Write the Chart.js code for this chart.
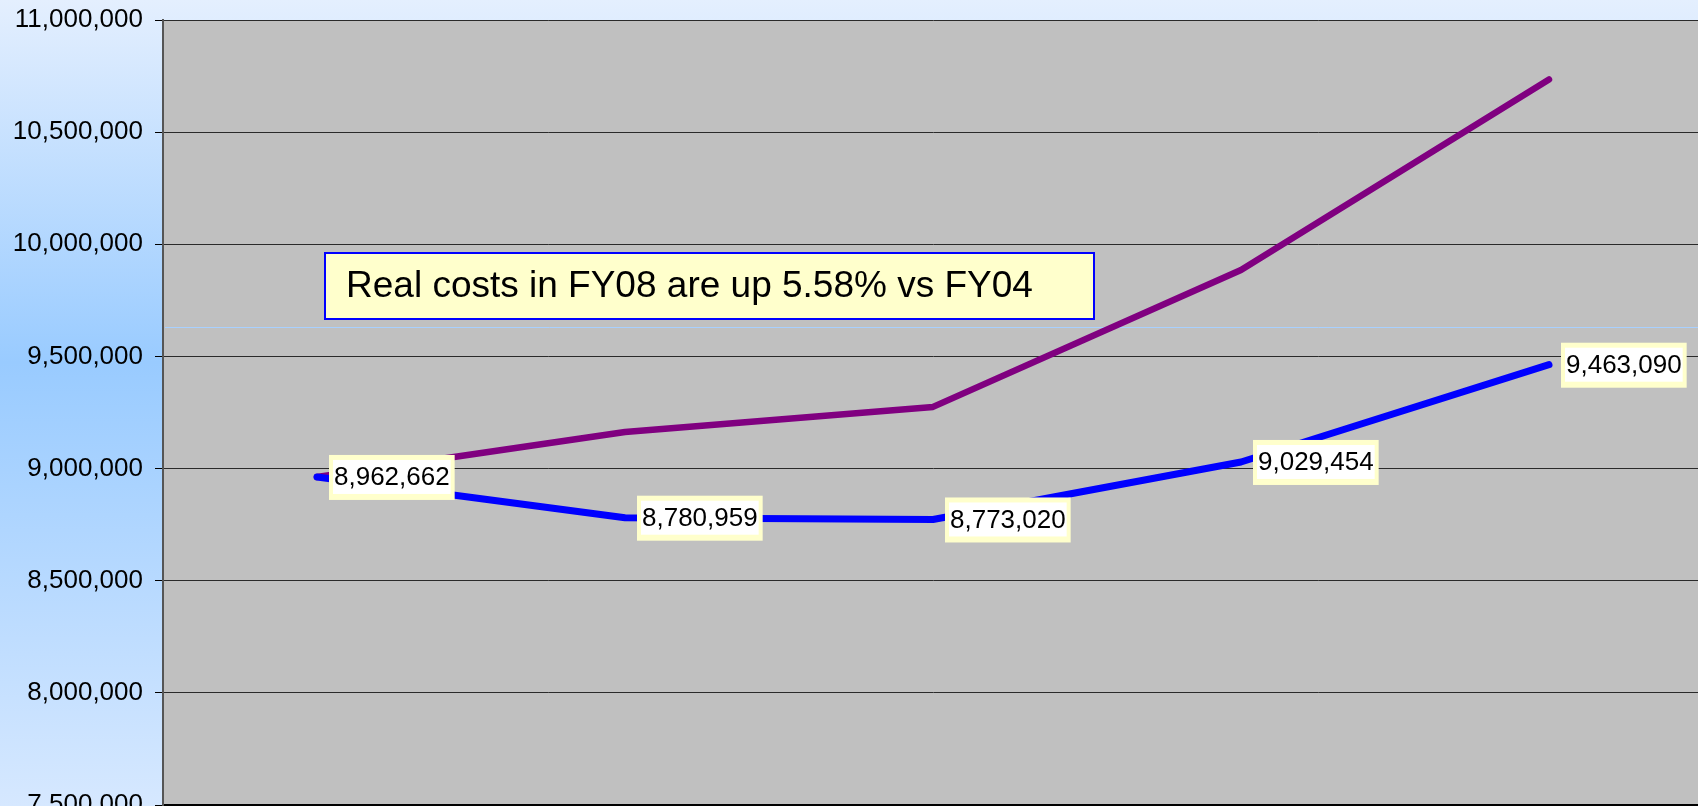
<!DOCTYPE html>
<html>
<head>
<meta charset="utf-8">
<script src="https://cdn.jsdelivr.net/npm/chart.js@4"></script>
<style>
  html, body { margin: 0; padding: 0; overflow: hidden; width: 1698px; height: 806px; }
  canvas { display: block; }
</style>
</head>
<body>
<canvas id="costChart" width="1705" height="840"></canvas>
<script>
// chart data
const years = ['FY04', 'FY05', 'FY06', 'FY07', 'FY08'];
const realCosts = [8962662, 8780959, 8773020, 9029454, 9463090];
const nominalCosts = [8962662, 9163000, 9275000, 9885000, 10735000];
const yTicks = [7500000, 8000000, 8500000, 9000000, 9500000, 10000000, 10500000, 11000000];
const noteText = 'Real costs in FY08 are up 5.58% vs FY04';

const FONT = '"Liberation Sans", Arial, sans-serif';

// page gradient + grey plot area
const backdrop = {
    id: 'backdrop',
    beforeDraw(chart) {
        const { ctx, chartArea: a } = chart;
        const g = ctx.createLinearGradient(0, 0, 0, 806);
        g.addColorStop(0, '#e4effe');
        g.addColorStop(0.45, '#99cbff');
        g.addColorStop(1, '#d6e8ff');
        ctx.save();
        ctx.fillStyle = g;
        ctx.fillRect(0, 0, chart.width, chart.height);
        ctx.fillStyle = '#c0c0c0';
        ctx.fillRect(a.left, a.top, a.right - a.left, a.bottom - a.top);
        ctx.restore();
    },
    beforeDatasetsDraw(chart) {
        // thin light blue rule across the plot
        const { ctx, chartArea: a } = chart;
        ctx.save();
        ctx.strokeStyle = '#a8d0ff';
        ctx.lineWidth = 1;
        ctx.beginPath();
        ctx.moveTo(a.left + 2, 327.5);
        ctx.lineTo(a.right, 327.5);
        ctx.stroke();
        ctx.restore();
    }
};

// value boxes on the real-cost line and the note box
const valueLabels = {
    id: 'valueLabels',
    afterDatasetsDraw(chart) {
        const ctx = chart.ctx;
        const meta = chart.getDatasetMeta(0);
        ctx.save();
        ctx.font = '26px ' + FONT;
        ctx.textBaseline = 'middle';
        meta.data.forEach((pt, i) => {
            const txt = realCosts[i].toLocaleString('en-US');
            const w = ctx.measureText(txt).width;
            const x = pt.x + 12, y = pt.y;
            ctx.fillStyle = '#ffffcc';
            ctx.fillRect(x, y - 22, w + 10, 45);
            ctx.fillStyle = '#ffffff';
            ctx.fillRect(x + 4, y - 17, w + 2, 34);
            ctx.fillStyle = '#000';
            ctx.fillText(txt, x + 5, y + 1);
        });

        // note
        ctx.fillStyle = '#ffffcc';
        ctx.fillRect(324, 252, 771, 68);
        ctx.strokeStyle = '#0000ff';
        ctx.lineWidth = 2;
        ctx.strokeRect(325, 253, 769, 66);
        ctx.fillStyle = '#000';
        ctx.font = '37px ' + FONT;
        ctx.fillText(noteText, 346, 287);
        ctx.restore();
    }
};

new Chart(document.getElementById('costChart'), {
    type: 'line',
    data: {
        labels: years,
        datasets: [
            {
                label: 'Real',
                data: realCosts,
                borderColor: '#0000ff',
                borderWidth: 7,
                borderCapStyle: 'round',
                borderJoinStyle: 'round',
                pointRadius: 0,
                tension: 0
            },
            {
                label: 'Nominal',
                data: nominalCosts,
                borderColor: '#800080',
                borderWidth: 6.5,
                borderCapStyle: 'round',
                borderJoinStyle: 'round',
                pointRadius: 0,
                tension: 0
            }
        ]
    },
    options: {
        responsive: false,
        animation: false,
        layout: { padding: { top: 20, right: 2, bottom: 27, left: 0 } },
        plugins: {
            legend: { display: false },
            tooltip: { enabled: false }
        },
        scales: {
            x: {
                offset: true,
                grid: { display: false },
                ticks: { display: false },
                border: { display: true, color: '#000', width: 2 }
            },
            y: {
                min: yTicks[0],
                max: yTicks[yTicks.length - 1],
                afterBuildTicks: scale => { scale.ticks = yTicks.map(v => ({ value: v })); },
                afterFit: scale => {
                    scale.width = 163;
                    scale.paddingTop = 0;
                    scale.paddingBottom = 0;
                },
                grid: { color: '#2a2a2a', lineWidth: 1, tickLength: 8, tickColor: '#000' },
                border: { color: '#555', width: 2 },
                ticks: {
                    padding: 12,
                    color: '#000',
                    font: { family: FONT, size: 26 },
                    callback: v => v.toLocaleString('en-US')
                }
            }
        }
    },
    plugins: [backdrop, valueLabels]
});
</script>
</body>
</html>
